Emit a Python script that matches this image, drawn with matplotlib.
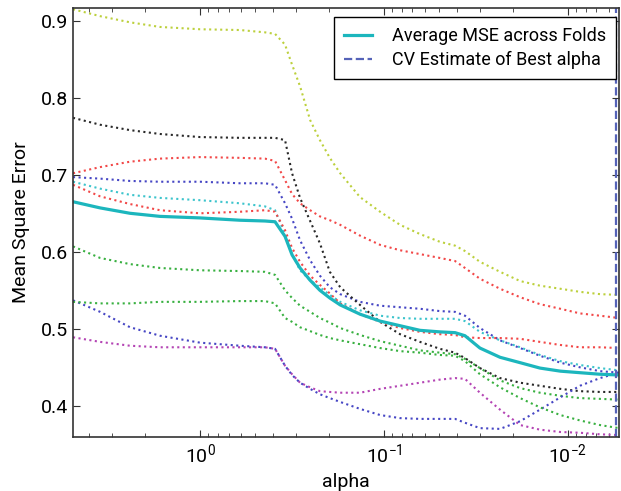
import matplotlib
matplotlib.use("Agg")
import matplotlib.pyplot as plt
from matplotlib.ticker import FixedLocator, FormatStrFormatter

plt.rcParams["font.family"] = ["Roboto", "DejaVu Sans"]

alphas = [4.90, 3.49, 2.40, 1.65, 1.00, 0.607, 0.444, 0.391, 0.345, 0.316, 0.286,
          0.252, 0.223, 0.197, 0.173, 0.135, 0.105, 0.0818, 0.0637, 0.0497,
          0.0411, 0.0363, 0.0301, 0.0234, 0.0182, 0.0142, 0.0110, 0.00861,
          0.00670, 0.00528]

# per-fold MSE along the alpha path
fold_blue_hi = [0.697, 0.695, 0.692, 0.691, 0.691, 0.689, 0.689, 0.687, 0.663, 0.643, 0.615,
                0.589, 0.569, 0.554, 0.545, 0.535, 0.530, 0.528, 0.526, 0.523,
                0.522, 0.517, 0.501, 0.485, 0.475, 0.465, 0.456, 0.450,
                0.445, 0.443]
fold_green_hi = [0.607, 0.592, 0.584, 0.579, 0.576, 0.575, 0.574, 0.570, 0.550, 0.540, 0.530,
                 0.522, 0.514, 0.508, 0.501, 0.492, 0.484, 0.478, 0.472, 0.469,
                 0.467, 0.461, 0.449, 0.433, 0.423, 0.417, 0.413, 0.410,
                 0.409, 0.408]
fold_red_hi = [0.702, 0.710, 0.717, 0.721, 0.723, 0.722, 0.721, 0.718, 0.693, 0.675, 0.663,
               0.654, 0.646, 0.641, 0.635, 0.621, 0.609, 0.602, 0.597, 0.592,
               0.588, 0.579, 0.565, 0.552, 0.541, 0.532, 0.526, 0.520,
               0.517, 0.514]
fold_cyan = [0.691, 0.682, 0.674, 0.670, 0.667, 0.663, 0.659, 0.654, 0.622, 0.597, 0.576,
             0.563, 0.554, 0.544, 0.535, 0.524, 0.517, 0.514, 0.513, 0.513,
             0.513, 0.510, 0.496, 0.485, 0.476, 0.466, 0.458, 0.453,
             0.449, 0.446]
fold_magenta = [0.489, 0.483, 0.478, 0.476, 0.476, 0.476, 0.476, 0.474, 0.452, 0.441, 0.430,
                0.424, 0.419, 0.418, 0.417, 0.417, 0.422, 0.426, 0.430, 0.434,
                0.436, 0.435, 0.417, 0.395, 0.375, 0.369, 0.366, 0.365,
                0.363, 0.362]
fold_yellow = [0.915, 0.906, 0.898, 0.892, 0.889, 0.888, 0.885, 0.883, 0.869, 0.843, 0.815,
               0.771, 0.745, 0.722, 0.702, 0.671, 0.652, 0.635, 0.623, 0.613,
               0.608, 0.601, 0.587, 0.574, 0.562, 0.556, 0.552, 0.548,
               0.545, 0.544]
fold_black = [0.774, 0.765, 0.758, 0.753, 0.749, 0.748, 0.748, 0.748, 0.745, 0.702, 0.670,
              0.640, 0.611, 0.574, 0.554, 0.531, 0.509, 0.493, 0.483, 0.474,
              0.469, 0.462, 0.449, 0.436, 0.430, 0.426, 0.422, 0.419,
              0.418, 0.418]
fold_blue_lo = [0.537, 0.522, 0.502, 0.491, 0.482, 0.478, 0.476, 0.474, 0.452, 0.440, 0.430,
                0.422, 0.415, 0.410, 0.405, 0.396, 0.388, 0.384, 0.383, 0.383,
                0.383, 0.378, 0.371, 0.370, 0.380, 0.395, 0.411, 0.426,
                0.436, 0.443]
fold_green_lo = [0.535, 0.533, 0.533, 0.535, 0.535, 0.536, 0.536, 0.533, 0.514, 0.509, 0.502,
                 0.497, 0.492, 0.488, 0.485, 0.480, 0.475, 0.471, 0.469, 0.466,
                 0.465, 0.458, 0.441, 0.424, 0.410, 0.398, 0.388, 0.381,
                 0.375, 0.371]
fold_red_lo = [0.687, 0.672, 0.662, 0.654, 0.650, 0.652, 0.654, 0.652, 0.628, 0.605, 0.587,
               0.569, 0.557, 0.546, 0.533, 0.519, 0.509, 0.501, 0.496, 0.493,
               0.492, 0.489, 0.488, 0.488, 0.487, 0.483, 0.479, 0.476,
               0.476, 0.475]
mse_mean = [0.665, 0.657, 0.650, 0.646, 0.644, 0.641, 0.640, 0.639, 0.620, 0.596, 0.579,
            0.563, 0.550, 0.540, 0.531, 0.519, 0.510, 0.504, 0.498, 0.496,
            0.495, 0.491, 0.475, 0.463, 0.456, 0.449, 0.445, 0.443,
            0.441, 0.440]
best_alpha = 0.00545

folds = [fold_blue_hi, fold_green_hi, fold_red_hi, fold_cyan, fold_magenta,
         fold_yellow, fold_black, fold_blue_lo, fold_green_lo, fold_red_lo]
fold_colors = ["#4646c4", "#38b040", "#f24848", "#3cc4cc", "#b444b4",
               "#bcd03c", "#282828", "#4646c4", "#38b040", "#f24848"]

fig = plt.figure(figsize=(6.21, 4.91), dpi=100)
ax = fig.add_axes([0.1176, 0.110, 0.8792, 0.8737])

for vals, col in zip(folds, fold_colors):
    ax.plot(alphas, vals, linestyle=":", color=col, lw=1.5)
ax.plot(alphas, mse_mean, color="#1cb6bd", lw=2.3, label="Average MSE across Folds")
ax.axvline(best_alpha, linestyle="--", color="#5563b8", lw=1.6,
           label="CV Estimate of Best alpha")

ax.set_xscale("log")
ax.set_xlim(alphas[0], alphas[-1])
ax.set_ylim(0.3595, 0.9166)
ax.yaxis.set_major_locator(FixedLocator([0.4, 0.5, 0.6, 0.7, 0.8, 0.9]))
ax.yaxis.set_major_formatter(FormatStrFormatter("%.1f"))
ax.tick_params(axis="both", which="both", direction="in", top=True, right=True,
               labelsize=14, color="#333333")
ax.tick_params(which="major", length=5)
ax.tick_params(which="minor", length=3)
for sp in ax.spines.values():
    sp.set_color("#333333")
    sp.set_linewidth(1.2)

ax.set_xlabel("alpha", fontsize=14, labelpad=5)
ax.set_ylabel("Mean Square Error", fontsize=14, labelpad=8)

leg = ax.legend(loc="upper right", bbox_to_anchor=(0.9945, 0.979), fontsize=13,
                fancybox=False, edgecolor="black", framealpha=1,
                handlelength=1.55, handletextpad=1.1, borderpad=0.55,
                labelspacing=0.35, borderaxespad=0)
leg.get_frame().set_linewidth(1.0)

fig.savefig("out.png", dpi=100)
